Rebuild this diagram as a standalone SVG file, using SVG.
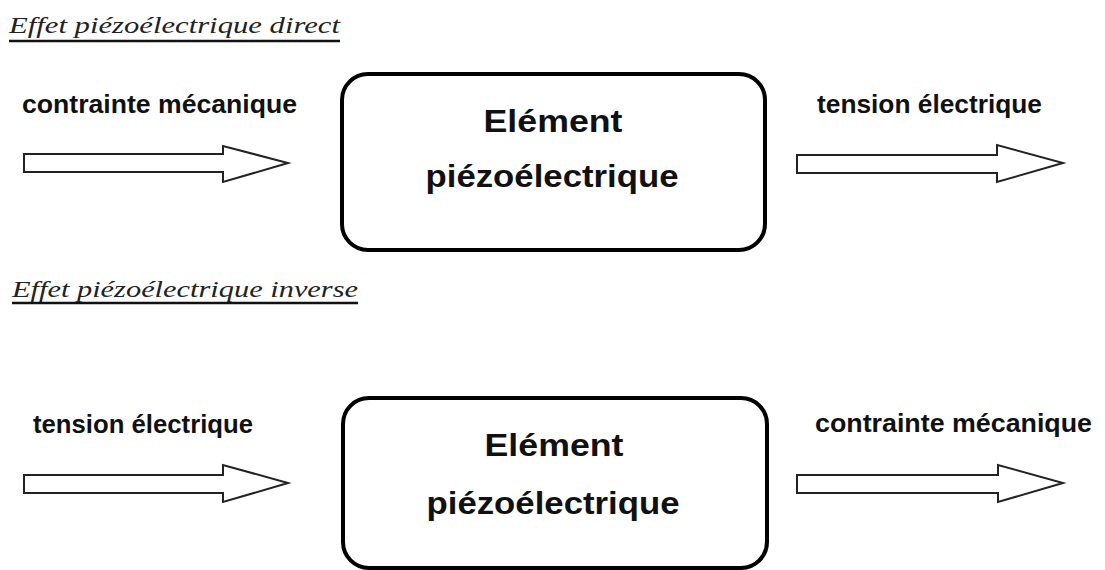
<svg xmlns="http://www.w3.org/2000/svg" width="1105" height="570" viewBox="0 0 1105 570">
  <style>
    .title { font-family: "Liberation Serif", "DejaVu Serif", serif; font-style: italic; font-size: 24px; fill: #222; }
    .uline { stroke: #111; stroke-width: 2.5; }
    .label { font-family: "Liberation Sans", Arial, sans-serif; font-weight: bold; font-size: 25px; fill: #111; }
    .boxtext { font-family: "Liberation Sans", Arial, sans-serif; font-weight: bold; font-size: 32px; fill: #111; text-anchor: middle; }
    .box { fill: #fff; stroke: #000; stroke-width: 4; }
    .arrow { fill: #fff; stroke: #222; stroke-width: 2; stroke-linejoin: miter; }
  </style>
  <rect width="1105" height="570" fill="#fff"/>

  <g id="title-direct">
    <text class="title" x="9" y="33" textLength="331" lengthAdjust="spacingAndGlyphs">Effet piézoélectrique direct</text>
    <line class="uline" x1="9" y1="41" x2="340" y2="41"/>
  </g>
  <g id="title-inverse">
    <text class="title" x="12" y="297" textLength="346" lengthAdjust="spacingAndGlyphs">Effet piézoélectrique inverse</text>
    <line class="uline" x1="12" y1="303" x2="358" y2="303"/>
  </g>

  <g id="label-in-direct">
    <text class="label" x="22" y="113" textLength="275" lengthAdjust="spacingAndGlyphs">contrainte mécanique</text>
  </g>
  <g id="label-out-direct">
    <text class="label" x="817" y="113" textLength="225" lengthAdjust="spacingAndGlyphs">tension électrique</text>
  </g>
  <g id="label-in-inverse">
    <text class="label" x="33" y="433" textLength="220" lengthAdjust="spacingAndGlyphs">tension électrique</text>
  </g>
  <g id="label-out-inverse">
    <text class="label" x="815" y="432" textLength="277" lengthAdjust="spacingAndGlyphs">contrainte mécanique</text>
  </g>

  <g id="node-direct">
    <rect class="box" x="342" y="74" width="423" height="176" rx="26" ry="26"/>
    <text class="boxtext" x="553" y="132" textLength="139" lengthAdjust="spacingAndGlyphs">Elément</text>
    <text class="boxtext" x="552" y="187" textLength="253" lengthAdjust="spacingAndGlyphs">piézoélectrique</text>
  </g>
  <g id="node-inverse">
    <rect class="box" x="343" y="398" width="424" height="170" rx="26" ry="26"/>
    <text class="boxtext" x="554" y="456" textLength="139" lengthAdjust="spacingAndGlyphs">Elément</text>
    <text class="boxtext" x="553" y="514" textLength="253" lengthAdjust="spacingAndGlyphs">piézoélectrique</text>
  </g>

  <g id="connectors">
    <polygon class="arrow" points="24,154 223,154 223,146 288,163 223,182 223,172 24,172"/>
    <polygon class="arrow" points="797,155 997,155 997,145 1063,163 997,182 997,173 797,173"/>
    <polygon class="arrow" points="24,475 223,475 223,465 288,483 223,502 223,493 24,493"/>
    <polygon class="arrow" points="797,475 998,475 998,465 1063,483 998,502 998,493 797,493"/>
  </g>
</svg>
